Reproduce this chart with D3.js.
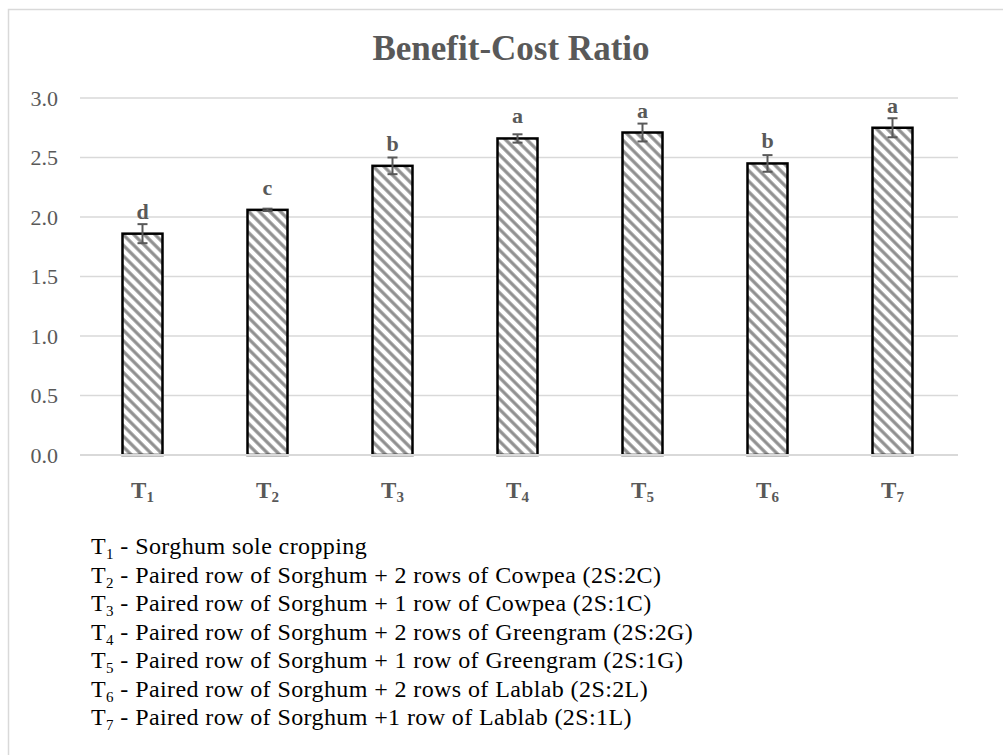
<!DOCTYPE html>
<html>
<head>
<meta charset="utf-8">
<script src="https://cdn.jsdelivr.net/npm/d3@7"></script>
<style>
  body { margin: 0; background: #fff; }
  svg { display: block; }
  text { font-family: "Liberation Serif", "DejaVu Serif", serif; }
</style>
</head>
<body>
<svg id="chart" width="1003" height="755"></svg>
<script>
// data
var treatments = ['1', '2', '3', '4', '5', '6', '7'];
var bcRatio = [1.86, 2.06, 2.43, 2.66, 2.71, 2.45, 2.75];
var stdErr = [0.08, 0.01, 0.07, 0.035, 0.075, 0.07, 0.08];
var letters = ['d', 'c', 'b', 'a', 'a', 'b', 'a'];
var yTicks = [0, 0.5, 1.0, 1.5, 2.0, 2.5, 3.0];
var legendText = [
    'Sorghum sole cropping',
    'Paired row of Sorghum + 2 rows of Cowpea (2S:2C)',
    'Paired row of Sorghum + 1 row of Cowpea (2S:1C)',
    'Paired row of Sorghum + 2 rows of Greengram (2S:2G)',
    'Paired row of Sorghum + 1 row of Greengram (2S:1G)',
    'Paired row of Sorghum + 2 rows of Lablab (2S:2L)',
    'Paired row of Sorghum +1 row of Lablab (2S:1L)'
];

var serif = '"Liberation Serif", "DejaVu Serif", serif';
var svg = d3.select('#chart');
var grey = '#595959';

// frame
svg.append('rect')
    .attr('x', 8.5).attr('y', 9.5)
    .attr('width', 1010).attr('height', 760)
    .attr('fill', 'none')
    .attr('stroke', '#d9d9d9')
    .attr('stroke-width', 1.5);

// hatch fill
var pattern = svg.append('defs').append('pattern')
    .attr('id', 'hatch')
    .attr('patternUnits', 'userSpaceOnUse')
    .attr('width', 7.5).attr('height', 7.5)
    .attr('patternTransform', 'rotate(-45)');
pattern.append('rect')
    .attr('width', 7.5).attr('height', 7.5)
    .attr('fill', '#fff');
pattern.append('line')
    .attr('x1', 3.75).attr('y1', 0)
    .attr('x2', 3.75).attr('y2', 7.5)
    .attr('stroke', '#8f8f8f')
    .attr('stroke-width', 3.2);

var x = d3.scaleBand()
    .domain(treatments)
    .range([80, 955])
    .paddingInner(0.68)
    .paddingOuter(0.34);

var y = d3.scaleLinear()
    .domain([0, 3])
    .range([455, 98]);

// title
svg.append('text')
    .attr('x', 511).attr('y', 60)
    .attr('text-anchor', 'middle')
    .attr('font-family', serif)
    .attr('font-size', 35)
    .attr('font-weight', 'bold')
    .attr('fill', grey)
    .text('Benefit-Cost Ratio');

// gridlines
svg.append('g').selectAll('line')
    .data(yTicks)
  .enter()
  .append('line')
    .attr('x1', 80).attr('x2', 958)
    .attr('y1', function(d) { return y(d); })
    .attr('y2', function(d) { return y(d); })
    .attr('stroke', '#d9d9d9')
    .attr('stroke-width', 1.5);

// y axis labels
var yAxis = svg.append('g')
    .attr('transform', 'translate(67,0)')
    .call(d3.axisLeft(y).tickValues(yTicks).tickFormat(d3.format('.1f')).tickSize(0).tickPadding(9));
yAxis.select('.domain').remove();
yAxis.attr('font-family', serif);
yAxis.selectAll('text')
    .attr('font-size', 22)
    .attr('fill', grey);

// bars
svg.append('g').selectAll('rect')
    .data(bcRatio)
  .enter()
  .append('rect')
    .attr('x', function(d, i) { return x(treatments[i]); })
    .attr('y', function(d) { return y(d); })
    .attr('width', x.bandwidth())
    .attr('height', function(d) { return y(0) - y(d); })
    .attr('fill', 'url(#hatch)')
    .attr('stroke', '#000')
    .attr('stroke-width', 2.5);

// error bars
var err = svg.append('g')
    .attr('stroke', grey)
    .attr('stroke-width', 2);
bcRatio.forEach(function(d, i) {
    var cx = x(treatments[i]) + x.bandwidth() / 2;
    var top = y(d + stdErr[i]);
    var bottom = y(d - stdErr[i]);
    err.append('line').attr('x1', cx).attr('x2', cx).attr('y1', top).attr('y2', bottom);
    err.append('line').attr('x1', cx - 5).attr('x2', cx + 5).attr('y1', top).attr('y2', top);
    err.append('line').attr('x1', cx - 5).attr('x2', cx + 5).attr('y1', bottom).attr('y2', bottom);
});

// significance letters
svg.append('g').selectAll('text')
    .data(bcRatio)
  .enter()
  .append('text')
    .attr('x', function(d, i) { return x(treatments[i]) + x.bandwidth() / 2; })
    .attr('y', function(d) { return y(d) - 15; })
    .attr('text-anchor', 'middle')
    .attr('font-family', serif)
    .attr('font-size', 22)
    .attr('font-weight', 'bold')
    .attr('fill', grey)
    .text(function(d, i) { return letters[i]; });

// x baseline
svg.append('line')
    .attr('x1', 80).attr('x2', 958)
    .attr('y1', y(0)).attr('y2', y(0))
    .attr('stroke', '#d9d9d9')
    .attr('stroke-width', 2);

// x labels with subscript
var xl = svg.append('g').selectAll('text')
    .data(treatments)
  .enter()
  .append('text')
    .attr('x', function(d) { return x(d) + x.bandwidth() / 2; })
    .attr('y', 498)
    .attr('text-anchor', 'middle')
    .attr('font-family', serif)
    .attr('font-size', 23)
    .attr('font-weight', 'bold')
    .attr('fill', grey);
xl.append('tspan').text('T');
xl.append('tspan')
    .attr('font-size', 15)
    .attr('dy', 4)
    .text(function(d) { return d; });

// legend
var legend = svg.append('g').selectAll('text')
    .data(legendText)
  .enter()
  .append('text')
    .attr('x', 91)
    .attr('y', function(d, i) { return 554 + i * 28.5; })
    .attr('font-family', serif)
    .attr('font-size', 24)
    .attr('letter-spacing', 0.4)
    .attr('fill', '#000');
legend.append('tspan').text('T');
legend.append('tspan')
    .attr('font-size', 15)
    .attr('dy', 5)
    .text(function(d, i) { return treatments[i]; });
legend.append('tspan')
    .attr('dy', -5)
    .text(function(d) { return ' - ' + d; });
</script>
</body>
</html>
